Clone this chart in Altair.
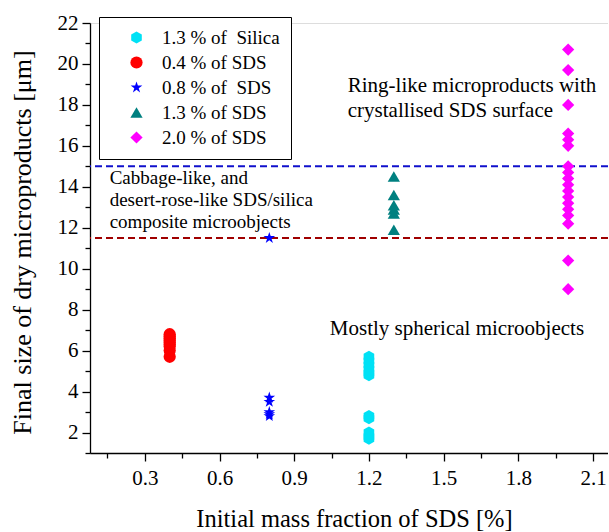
import altair as alt
import pandas as pd

FONT = "Liberation Serif"

# ---- data ----
silica_x = 1.2
silica_y = [5.7, 5.5, 5.3, 5.1, 4.9, 4.8, 2.8, 2.7, 2.0, 1.8, 1.7]
sds04_x = 0.4
sds04_y = [6.8, 6.7, 6.6, 6.5, 6.4, 6.3, 6.2, 6.0, 5.7]
sds08_x = 0.8
sds08_y = [3.7, 3.5, 3.0, 2.9, 2.8, 11.5]
sds13_x = 1.3
sds13_y = [14.5, 13.6, 13.1, 12.9, 12.7, 11.9]
sds20_x = 2.0
sds20_y = [20.7, 19.7, 18.0, 16.6, 16.3, 16.0, 15.0, 14.7, 14.4, 14.1, 13.8,
           13.5, 13.2, 12.9, 12.6, 12.2, 10.4, 9.0]

series_names = ["1.3 % of\u00a0 Silica", "0.4 % of SDS", "0.8 % of\u00a0 SDS",
                "1.3 % of SDS", "2.0 % of SDS"]
series_colors = ["#00E1F5", "#FF0000", "#0000FF", "#008080", "#FF00FF"]

hexagon = "M0,-1 L0.866,-0.5 L0.866,0.5 L0,1 L-0.866,0.5 L-0.866,-0.5 Z"
star = ("M0,-1 L0.2245,-0.309 L0.951,-0.309 L0.363,0.118 L0.588,0.809 "
        "L0,0.382 L-0.588,0.809 L-0.363,0.118 L-0.951,-0.309 L-0.2245,-0.309 Z")
series_shapes = [hexagon, "circle", star, "triangle-up", "diamond"]

threshold_values = [15.0, 11.5]
threshold_colors = ["#1010CC", "#A00000"]

ann_text = ["Ring-like microproducts with", "crystallised SDS surface",
            "Cabbage-like, and", "desert-rose-like SDS/silica",
            "composite microobjects", "Mostly spherical microobjects"]
ann_x = [1.115, 1.115, 0.159, 0.159, 0.159, 1.043]
ann_y = [18.9, 17.7, 14.45, 13.35, 12.3, 7.06]
ann_size = [21, 21, 19, 19, 19, 21]

x_major = [0.3, 0.6, 0.9, 1.2, 1.5, 1.8, 2.1]
x_minor = [0.15, 0.45, 0.75, 1.05, 1.35, 1.65, 1.95]
y_major = [2, 4, 6, 8, 10, 12, 14, 16, 18, 20, 22]
y_minor = [1, 3, 5, 7, 9, 11, 13, 15, 17, 19, 21]

# ---- tables ----
rows = []
for name, xs, ys in [(series_names[0], silica_x, silica_y),
                     (series_names[1], sds04_x, sds04_y),
                     (series_names[2], sds08_x, sds08_y),
                     (series_names[3], sds13_x, sds13_y),
                     (series_names[4], sds20_x, sds20_y)]:
    for v in ys:
        rows.append({"series": name, "x": xs, "y": v})
df = pd.DataFrame(rows)
thr = pd.DataFrame({"y": threshold_values, "c": threshold_colors})
ann = pd.DataFrame({"t": ann_text, "x": ann_x, "y": ann_y, "s": ann_size})

xscale = alt.Scale(domain=[0.08, 2.16], nice=False, zero=False)
yscale = alt.Scale(domain=[1, 22], nice=False, zero=False)

common = dict(grid=False, domainColor="black", tickColor="black", labelColor="black",
              domainWidth=1.3, tickWidth=1.3)

x_axis = alt.Axis(
    values=x_major, title="Initial mass fraction of SDS [%]", format=".1f",
    tickSize=8, labelFont=FONT, labelFontSize=21, labelPadding=6, titleFont=FONT,
    titleFontSize=24.5, titleFontWeight="normal", titlePadding=19, titleColor="black",
    titleX=264, orient="bottom", **common,
)
y_axis = alt.Axis(
    values=y_major, title="Final size of dry microproducts [\u03bcm]",
    tickSize=8, labelFont=FONT, labelFontSize=21, labelPadding=4, titleFont=FONT,
    titleFontSize=26, titleFontWeight="normal", titlePadding=22, titleColor="black",
    titleY=219, orient="left", **common,
)
x_axis_minor = alt.Axis(values=x_minor, tickSize=5, labels=False, domain=False,
                        title=None, orient="bottom", grid=False, tickColor="black",
                        tickWidth=1.3)
y_axis_minor = alt.Axis(values=y_minor, tickSize=5, labels=False, domain=False,
                        title=None, orient="left", grid=False, tickColor="black",
                        tickWidth=1.3)

points = alt.Chart(df).mark_point(filled=True, opacity=1, size=150).encode(
    x=alt.X("x:Q", scale=xscale, axis=x_axis),
    y=alt.Y("y:Q", scale=yscale, axis=y_axis),
    color=alt.Color("series:N", scale=alt.Scale(domain=series_names, range=series_colors),
                    legend=alt.Legend(
                        title=None, orient="none", legendX=9, legendY=-6,
                        strokeColor="black", padding=11,
                        labelFont=FONT, labelFontSize=19, labelColor="black",
                        symbolSize=150, symbolOpacity=1, rowPadding=5,
                        symbolOffset=17, labelOffset=16, labelLimit=300,
                        fillColor="white")),
    shape=alt.Shape("series:N", scale=alt.Scale(domain=series_names, range=series_shapes)),
)

rules = alt.Chart(thr).mark_rule(strokeDash=[7, 4], strokeWidth=2).encode(
    y=alt.Y("y:Q", scale=yscale, axis=None),
    color=alt.Color("c:N", scale=None),
)

texts = alt.Chart(ann).mark_text(align="left", baseline="middle", font=FONT,
                                 color="black").encode(
    x=alt.X("x:Q", scale=xscale, axis=x_axis_minor),
    y=alt.Y("y:Q", scale=yscale, axis=y_axis_minor),
    text="t:N",
    size=alt.Size("s:Q", scale=None),
)

chart = alt.layer(rules, texts, points).resolve_scale(
    x="independent", y="independent"
).properties(
    width=518, height=430,
    padding={"left": 90, "top": 23, "right": 0, "bottom": 79},
    autosize=alt.AutoSizeParams(type="none"),
).configure_view(stroke=None).configure(background="white")

chart.save("out.html", embed_options={"renderer": "svg", "actions": False})
